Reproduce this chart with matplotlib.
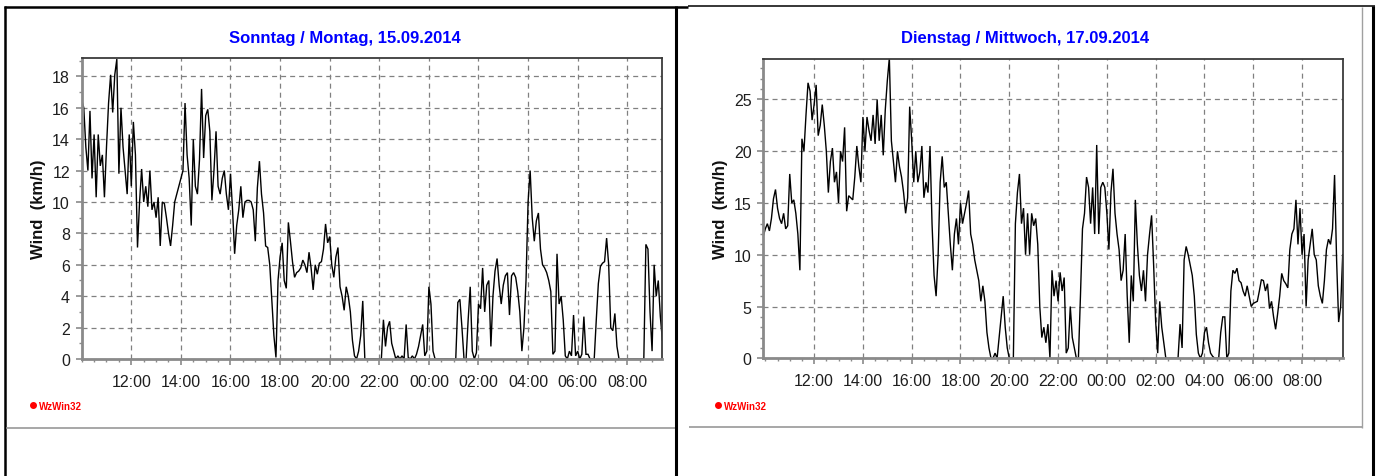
import matplotlib
matplotlib.use("Agg")
import matplotlib.pyplot as plt
from matplotlib.lines import Line2D
from matplotlib.ticker import MultipleLocator, FixedLocator, FixedFormatter

# ---------------- data ----------------
left_title = "Sonntag / Montag, 15.09.2014"
right_title = "Dienstag / Mittwoch, 17.09.2014"
y_label = "Wind  (km/h)"
logo_text = "WzWin32"

sample_minutes = 5

left_start = "10:00"
left_end = "09:24"
left_ymax = 19.15
left_wind = [
    16.5, 16.0, 13.5, 12.0, 15.8, 11.5, 14.3, 10.3, 14.3, 12.3,
    13.0, 10.3, 13.5, 16.3, 18.1, 15.7, 18.1, 19.1, 11.8, 16.0,
    13.5, 12.0, 10.5, 14.3, 11.0, 15.1, 13.0, 7.1, 10.0, 12.1,
    10.0, 11.0, 9.7, 12.0, 9.5, 10.0, 9.0, 10.3, 7.2, 10.0,
    9.9, 9.0, 8.0, 7.2, 8.5, 10.0, 10.5, 11.0, 11.5, 12.0,
    16.3, 13.0, 11.5, 8.5, 14.0, 11.0, 10.5, 12.7, 17.2, 12.8,
    15.5, 15.9, 14.5, 10.1, 12.0, 14.5, 11.0, 10.5, 11.5, 12.0,
    10.5, 9.5, 11.8, 9.5, 6.7, 8.5, 9.5, 11.0, 9.0, 10.0,
    10.1, 10.1, 10.0, 9.5, 7.5, 10.9, 12.6, 10.5, 9.3, 7.2,
    7.1, 6.0, 3.8, 1.5, 0.1, 5.0, 6.5, 7.4, 5.0, 4.5,
    8.7, 7.5, 6.2, 5.2, 5.5, 5.6, 5.8, 6.3, 6.0, 5.5,
    6.8, 5.8, 4.4, 6.0, 5.4, 6.1, 6.2, 7.0, 8.6, 7.4,
    7.8, 6.0, 5.2, 6.5, 7.1, 4.6, 4.0, 3.1, 4.6, 4.0,
    3.0, 1.2, 0.2, 0.0, 0.5, 1.5, 3.7, 0.0, 0.0, 0.0,
    0.0, 0.0, 0.0, 0.0, 0.0, 0.0, 2.5, 0.8, 2.0, 2.4,
    1.0, 0.5, 0.0, 0.2, 0.0, 0.2, 0.0, 2.2, 0.1, 0.0,
    0.2, 0.0, 0.3, 0.8, 1.5, 2.2, 0.2, 0.5, 4.6, 3.5,
    0.5, 0.0, 0.0, 0.0, 0.0, 0.0, 0.0, 0.0, 0.0, 0.0,
    0.0, 0.0, 3.6, 3.8, 2.0, 0.0, 0.0, 2.5, 4.6, 0.5,
    0.0, 0.4, 3.5, 3.2, 5.8, 3.0, 4.7, 5.0, 0.8, 4.0,
    5.6, 6.4, 4.7, 3.5, 4.7, 5.3, 5.5, 2.8, 5.3, 5.5,
    5.2, 4.3, 3.0, 0.5, 2.0, 5.0, 10.0, 12.0, 9.0, 7.5,
    8.8, 9.3, 7.0, 6.0, 5.8, 5.5, 5.0, 4.3, 0.3, 0.5,
    6.7, 3.5, 4.0, 2.5, 0.2, 0.0, 0.5, 0.2, 2.8, 0.2,
    0.5, 0.0, 0.3, 2.7, 0.3, 0.3, 0.0, 0.0, 0.0, 2.5,
    4.8, 5.9, 6.1, 6.2, 7.7, 6.0, 2.0, 1.8, 2.9, 0.8,
    0.0, 0.0, 0.0, 0.0, 0.0, 0.0, 0.0, 0.0, 0.0, 0.0,
    0.0, 0.0, 0.0, 7.3, 7.0, 3.0, 0.5, 6.0, 4.0, 5.0,
    2.7, 1.2,
]

right_start = "09:55"
right_end = "09:40"
right_ymax = 28.9
right_wind = [
    11.8, 12.5, 13.0, 12.3, 13.5, 15.4, 16.3, 14.5, 13.5, 13.0,
    14.0, 12.5, 12.8, 17.8, 15.0, 15.3, 14.0, 12.0, 8.5, 21.2,
    20.0, 23.5, 26.6, 25.8, 23.0, 24.5, 26.4, 21.5, 22.5, 24.5,
    22.5, 20.0, 16.0, 19.0, 20.3, 17.0, 18.0, 15.0, 20.0, 19.0,
    22.3, 14.2, 15.7, 15.5, 15.3, 17.5, 20.5, 18.5, 17.0, 23.3,
    20.0, 23.3, 22.0, 21.0, 23.5, 20.7, 25.0, 21.0, 23.5, 19.6,
    24.0, 26.8, 29.0, 21.0, 19.0, 17.0, 20.0, 18.5, 17.5, 16.0,
    14.0, 15.5, 24.3, 21.0, 17.0, 20.0, 17.0, 18.0, 20.5, 15.5,
    17.0, 16.0, 20.5, 13.0, 8.0, 6.0, 10.0, 17.0, 19.5, 16.5,
    17.0, 14.0, 11.0, 8.5, 12.0, 13.5, 11.0, 15.0, 13.0, 14.0,
    15.0, 16.2, 12.0, 11.0, 9.5, 8.5, 7.5, 5.5, 7.0, 5.5,
    2.5, 1.0, 0.0, 0.0, 0.5, 0.0, 2.0, 4.0, 6.0, 3.0,
    1.0, 0.0, 0.0, 0.0, 13.0, 16.0, 17.8, 13.0, 14.5, 10.0,
    14.0, 10.0, 14.0, 12.8, 13.5, 11.0, 5.0, 2.0, 3.0, 1.5,
    3.3, 0.0, 8.5, 6.0, 7.5, 5.5, 8.3, 6.5, 7.8, 0.5,
    1.0, 5.0, 2.0, 1.0, 0.0, 0.0, 6.0, 12.5, 14.0, 17.5,
    16.5, 13.0, 16.5, 12.0, 20.6, 12.0, 16.5, 17.0, 16.5, 14.0,
    10.5, 16.0, 18.3, 14.0, 12.0, 10.5, 7.5, 8.5, 12.0, 6.0,
    1.5, 8.0, 5.5, 15.3, 11.0, 8.0, 6.5, 8.5, 5.5, 10.0,
    12.0, 13.8, 9.0, 3.5, 0.5, 5.5, 3.0, 1.5, 0.0, 0.0,
    0.0, 0.0, 0.0, 0.0, 0.0, 3.3, 1.0, 9.5, 10.8, 10.0,
    9.0, 8.0, 6.0, 2.3, 0.5, 0.0, 0.5, 2.5, 3.0, 1.5,
    0.5, 0.2, 0.0, 0.0, 0.0, 2.5, 4.0, 4.0, 0.0, 0.5,
    6.5, 8.5, 8.2, 8.7, 7.5, 7.3, 6.5, 6.0, 7.0, 6.0,
    5.0, 5.3, 5.4, 5.5, 6.5, 7.6, 7.5, 6.5, 7.2, 4.8,
    5.5, 4.0, 2.8, 4.3, 6.0, 8.2, 7.5, 7.2, 6.8, 10.5,
    12.0, 12.5, 15.3, 11.0, 14.5, 10.0, 12.0, 5.0, 9.5, 11.0,
    12.5, 10.0, 9.5, 7.0, 6.0, 5.3, 7.5, 10.5, 11.5, 11.0,
    12.5, 17.7, 9.5, 3.5, 5.0, 10.0,
]

hour_ticks = ["12:00", "14:00", "16:00", "18:00", "20:00", "22:00",
              "00:00", "02:00", "04:00", "06:00", "08:00"]
left_yticks = [0, 2, 4, 6, 8, 10, 12, 14, 16, 18]
right_yticks = [0, 5, 10, 15, 20, 25]

# ---------------- helpers ----------------
W, H = 1378, 477
plt.rcParams["lines.scale_dashes"] = False
plt.rcParams["font.family"] = ["Liberation Sans", "DejaVu Sans"]


def to_hours(s, ref=None):
    h, m = s.split(":")
    v = int(h) + int(m) / 60.0
    if ref is not None and v < ref:
        v += 24
    return v


def fx(x):
    return x / W


def fy(y):
    return 1 - y / H


fig = plt.figure(figsize=(W / 100, H / 100), dpi=100)
fig.patch.set_facecolor("white")


def fline(xs, ys, color, lw):
    fig.add_artist(Line2D([fx(v) for v in xs], [fy(v) for v in ys],
                          color=color, lw=lw, solid_capstyle="butt"))


# table borders around the two chart images
fline([4, 688], [7.5, 7.5], "black", 1.8)
fline([688, 1375], [7, 7], "black", 1.1)
fline([5, 5], [6.5, 477], "black", 1.8)
fline([676, 676], [6.5, 477], "black", 2.2)
fline([1373, 1373], [6.5, 477], "black", 2.2)
fline([1362, 1362], [8, 428.5], "#a0a0a0", 1.0)
fline([6, 675], [429, 429], "#909090", 1.1)
fline([689, 1362], [428, 428], "#909090", 1.1)


def make_panel(rect, start, end, wind, ymax, yticks, title, title_x,
               ylabel_x, logo_x):
    l, t, r, b = rect
    ax = fig.add_axes([fx(l), fy(b), (r - l) / W, (b - t) / H])
    t0 = to_hours(start)
    xs = [t0 + i * sample_minutes / 60.0 for i in range(len(wind))]
    ax.plot(xs, wind, color="black", lw=1.0, solid_joinstyle="miter")
    ax.set_xlim(t0, to_hours(end, t0))
    ax.set_ylim(0, ymax)

    xt = [to_hours(s, t0) for s in hour_ticks]
    ax.xaxis.set_major_locator(FixedLocator(xt))
    ax.xaxis.set_major_formatter(FixedFormatter(hour_ticks))
    ax.xaxis.set_minor_locator(MultipleLocator(0.5))
    ax.yaxis.set_major_locator(FixedLocator(yticks))
    ax.yaxis.set_minor_locator(MultipleLocator(1))

    ax.grid(True, which="major", color="#808080", lw=0.9,
            linestyle=(0, (3.6, 2.9)))
    ax.set_axisbelow(True)

    for side in ("top", "right"):
        ax.spines[side].set_color("#3a3a3a")
        ax.spines[side].set_linewidth(1.3)
    for side in ("left", "bottom"):
        ax.spines[side].set_color("#8a8a8a")
        ax.spines[side].set_linewidth(2.0)

    ax.tick_params(which="major", direction="out", length=4.5, width=1.2,
                   color="#8a8a8a", labelsize=11.5, labelcolor="#1e1e1e")
    ax.tick_params(which="minor", direction="out", length=2.5, width=1.0,
                   color="#8a8a8a")
    ax.tick_params(axis="x", which="major", pad=6)
    ax.tick_params(axis="y", which="major", pad=4)

    fig.text(fx(title_x), fy(38), title, color="#0000ff", fontsize=12,
             fontweight="bold", ha="center", va="center")
    fig.text(fx(ylabel_x), fy((t + b) / 2), y_label, rotation=90,
             fontsize=12, fontweight="bold", ha="center", va="center",
             color="#111111")
    fig.add_artist(Line2D([fx(logo_x)], [fy(406)], marker="o", ms=4,
                          color="red", mec="red", lw=0))
    fig.text(fx(logo_x + 6), fy(406.5), logo_text, color="red", fontsize=7,
             fontweight="bold", ha="left", va="center")
    return ax


make_panel((81.7, 59.3, 662.0, 360.0), left_start, left_end, left_wind,
           left_ymax, left_yticks, left_title, 345, 38, 33.3)
make_panel((763.3, 60.0, 1342.7, 359.3), right_start, right_end, right_wind,
           right_ymax, right_yticks, right_title, 1025, 720, 717.5)

fig.savefig("out.png", dpi=100, facecolor="white")
